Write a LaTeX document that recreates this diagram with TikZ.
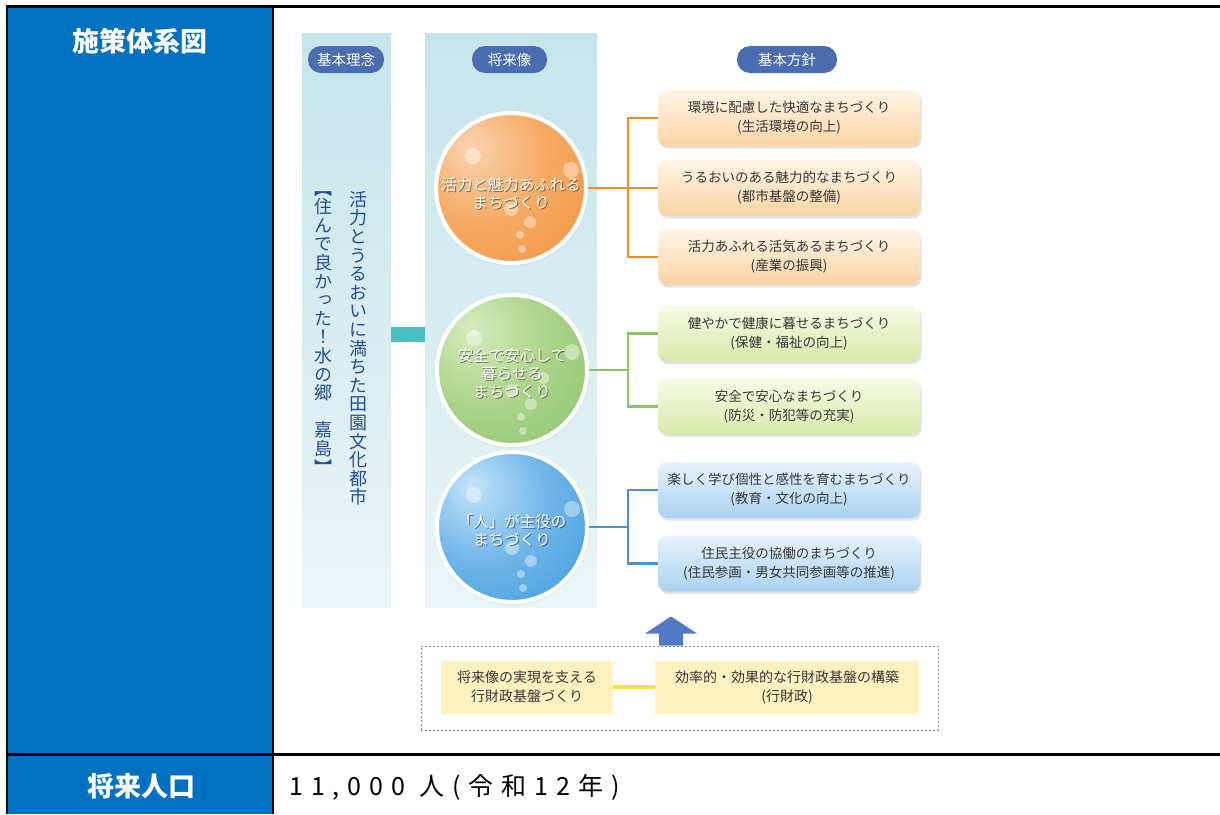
\documentclass[tikz,border=0pt]{standalone}
\usepackage{fontspec}
\setmainfont{Noto Sans CJK JP}
\newfontfamily\vjp[RawFeature=+vert]{Noto Sans CJK JP}
\usetikzlibrary{shadows,calc}

\definecolor{tblue}{RGB}{0,112,192}
\definecolor{pillc}{RGB}{74,108,176}
\definecolor{panTop}{RGB}{198,229,234}
\definecolor{panBot}{RGB}{234,245,247}
\definecolor{vtxt}{RGB}{38,78,150}
\definecolor{tealc}{RGB}{75,190,196}
\definecolor{orL}{RGB}{251,212,176}
\definecolor{orM}{RGB}{246,170,100}
\definecolor{orD}{RGB}{238,132,36}
\definecolor{grL}{RGB}{214,236,192}
\definecolor{grM}{RGB}{172,212,138}
\definecolor{grD}{RGB}{122,184,84}
\definecolor{blL}{RGB}{196,228,250}
\definecolor{blM}{RGB}{112,182,234}
\definecolor{blD}{RGB}{24,136,212}
\definecolor{orLine}{RGB}{236,140,36}
\definecolor{grLine}{RGB}{140,196,100}
\definecolor{blLine}{RGB}{80,145,205}
\definecolor{obT}{RGB}{255,245,230}
\definecolor{obB}{RGB}{250,212,164}
\definecolor{gbT}{RGB}{247,251,230}
\definecolor{gbB}{RGB}{216,233,170}
\definecolor{bbT}{RGB}{232,243,252}
\definecolor{bbB}{RGB}{170,210,241}
\definecolor{ylw}{RGB}{255,241,192}
\definecolor{ylwLine}{RGB}{255,224,70}
\definecolor{arrowblue}{RGB}{82,122,196}
\definecolor{dashc}{RGB}{130,140,175}
\definecolor{btxt}{RGB}{55,55,55}

\pgfdeclareradialshading{orball}{\pgfpoint{-14bp}{14bp}}{color(0bp)=(orL); color(22bp)=(orM); color(62bp)=(orD); color(80bp)=(orD)}
\pgfdeclareradialshading{grball}{\pgfpoint{-14bp}{14bp}}{color(0bp)=(grL); color(22bp)=(grM); color(62bp)=(grD); color(80bp)=(grD)}
\pgfdeclareradialshading{blball}{\pgfpoint{-14bp}{14bp}}{color(0bp)=(blL); color(22bp)=(blM); color(62bp)=(blD); color(80bp)=(blD)}

\tikzset{
  pillbox/.style={fill=pillc, text=white, rounded corners=13pt, minimum height=27pt, inner sep=0pt, font=\fontsize{14.5}{16}\selectfont},
  panel/.style={top color=panTop, bottom color=panBot, draw=none},
  vtext/.style={align=center, inner sep=0pt, text=vtxt, anchor=north, font=\vjp\fontsize{18}{18.6}\selectfont},
  circ/.style={circle, minimum size=150pt, inner sep=0pt, draw=white, line width=4pt,
     circular drop shadow={shadow xshift=0.5pt, shadow yshift=-2pt, shadow scale=1.03, opacity=0.25}},
  bub/.style={fill=white, fill opacity=0.4, draw=none},
  ctxt/.style={align=center, inner sep=0pt, text=white, font=\fontsize{15.5}{18}\selectfont},
  ctxtsh/.style={ctxt, text=black, text opacity=0.45},
  hbox/.style={rounded corners=9pt, minimum width=262pt, minimum height=56pt, align=center, inner sep=0pt,
     font=\fontsize{13.5}{19}\selectfont, text=btxt,
     drop shadow={shadow xshift=1.5pt, shadow yshift=-2.5pt, opacity=0.22}},
  obox/.style={hbox, top color=obT, bottom color=obB},
  gbox/.style={hbox, top color=gbT, bottom color=gbB},
  bbox/.style={hbox, top color=bbT, bottom color=bbB},
  conn/.style={line width=2.5pt},
  ybox/.style={fill=ylw, minimum height=53pt, align=center, inner sep=0pt, font=\fontsize{14}{19}\selectfont, text=btxt},
  hdr/.style={text=white, font=\bfseries\fontsize{27}{30}\selectfont, inner sep=0pt},
}

\newcommand{\bubbles}[1]{%
  \fill[bub] ($(#1)+(-38,-32)$) circle (8);
  \fill[bub] ($(#1)+(60,-18)$) circle (8);
  \fill[bub] ($(#1)+(0,21)$) circle (7);
  \fill[bub] ($(#1)+(19,34)$) circle (6);
  \fill[bub] ($(#1)+(9,47)$) circle (4);
  \fill[bub] ($(#1)+(11,61)$) circle (4);
}

\begin{document}
\begin{tikzpicture}[x=1pt,y=-1pt]
\useasboundingbox (0,0) rectangle (1220,814);
\fill[white] (0,0) rectangle (1220,814);

% ---- table frame
\fill[tblue] (8,7) rectangle (272,814);
\draw[line width=2.5pt] (5.8,6.5) -- (1220,6.5);
\draw[line width=2.5pt] (7,6.5) -- (7,814);
\draw[line width=2.5pt] (273.2,6.5) -- (273.2,814);
\draw[line width=2.5pt] (7,754.5) -- (1220,754.5);

\node[hdr] (h1) at (140,41) {施策体系図};
\node[hdr] (h2) at (141,786) {将来人口};
\node[anchor=west, inner sep=0pt, font=\fontsize{25}{28}\selectfont\addfontfeature{LetterSpace=32}] (pop) at (289,787) {11,000 人(令和12年)};

% ---- panels
\fill[panel] (302,33) rectangle (391,607);
\fill[panel] (425,33) rectangle (597,607);

\node[pillbox, minimum width=76pt] (p1) at (346,59.5) {基本理念};
\node[pillbox, minimum width=75pt] (p2) at (509.5,59.5) {将来像};
\node[pillbox, minimum width=100pt] (p3) at (787,59.5) {基本方針};

% ---- vertical texts
\node[vtext] (v1) at (358,191) {活\\力\\と\\う\\る\\お\\い\\に\\満\\ち\\た\\田\\園\\文\\化\\都\\市};
\node[vtext] (v2) at (323,191) {【\\住\\ん\\で\\良\\か\\っ\\た\\！\\水\\の\\郷\\\phantom{嘉}\\嘉\\島\\】};

% teal link
\fill[tealc] (391,327) rectangle (425,342);

% ---- circles
\node[circ, shading=orball] (c1) at (511,188) {};
\node[circ, shading=grball] (c2) at (512,370) {};
\node[circ, shading=blball] (c3) at (512,527) {};
\bubbles{c1}
\bubbles{c2}
\fill[bub] ($(c2)+(31,8)$) circle (6);
\bubbles{c3}

\node[ctxtsh, xshift=1pt, yshift=-1pt] (t1s) at ($(c1)+(0,5)$) {活力と魅力あふれる\\まちづくり};
\node[ctxt] (t1) at ($(c1)+(0,5)$) {活力と魅力あふれる\\まちづくり};
\node[ctxtsh, xshift=1pt, yshift=-1pt] (t2s) at ($(c2)+(0,3)$) {安全で安心して\\暮らせる\\まちづくり};
\node[ctxt] (t2) at ($(c2)+(0,3)$) {安全で安心して\\暮らせる\\まちづくり};
\node[ctxtsh, xshift=1pt, yshift=-1pt] (t3s) at ($(c3)+(0,3)$) {「人」が主役の\\まちづくり};
\node[ctxt] (t3) at ($(c3)+(0,3)$) {「人」が主役の\\まちづくり};

% ---- policy boxes
\node[obox] (b11) at (789,118) {環境に配慮した快適なまちづくり\\(生活環境の向上)};
\node[obox] (b12) at (789,188) {うるおいのある魅力的なまちづくり\\(都市基盤の整備)};
\node[obox] (b13) at (789,257) {活力あふれる活気あるまちづくり\\(産業の振興)};
\node[gbox] (b21) at (789,333.5) {健やかで健康に暮せるまちづくり\\(保健・福祉の向上)};
\node[gbox] (b22) at (789,406.5) {安全で安心なまちづくり\\(防災・防犯等の充実)};
\node[bbox] (b31) at (789,490) {楽しく学び個性と感性を育むまちづくり\\(教育・文化の向上)};
\node[bbox] (b32) at (789,563.5) {住民主役の協働のまちづくり\\(住民参画・男女共同参画等の推進)};

% ---- connectors
\coordinate (j1) at (628,188);
\coordinate (j2) at (628,370);
\coordinate (j3) at (628,527);
\draw[conn, orLine] (c1.east) -- (j1) -- (b12.west);
\draw[conn, orLine] (b11.west) -| (j1) |- (b13.west);
\draw[conn, grLine] (c2.east) -- (j2);
\draw[conn, grLine] (b21.west) -| (j2) |- (b22.west);
\draw[conn, blLine] (c3.east) -- (j3);
\draw[conn, blLine] (b31.west) -| (j3) |- (b32.west);

% ---- bottom foundation
\node[draw=dashc, line width=0.9pt, dash pattern=on 2pt off 2pt, minimum width=517pt, minimum height=84pt, inner sep=0pt] (fin) at (679.5,688) {};
\node[ybox, minimum width=172pt] (y1) at (527,687) {将来像の実現を支える\\行財政基盤づくり};
\node[ybox, minimum width=264pt] (y2) at (787,687) {効率的・効果的な行財政基盤の構築\\(行財政)};
\draw[ylwLine, line width=4pt] (y1.east) -- (y2.west);

\coordinate (arB) at (671,645.5);
\fill[arrowblue] (arB) ++(-12,0) -- ++(0,-12) -- ++(-14,0) -- ++(26,-17) -- ++(26,17) -- ++(-14,0) -- ++(0,12) -- cycle;
\end{tikzpicture}
\end{document}
